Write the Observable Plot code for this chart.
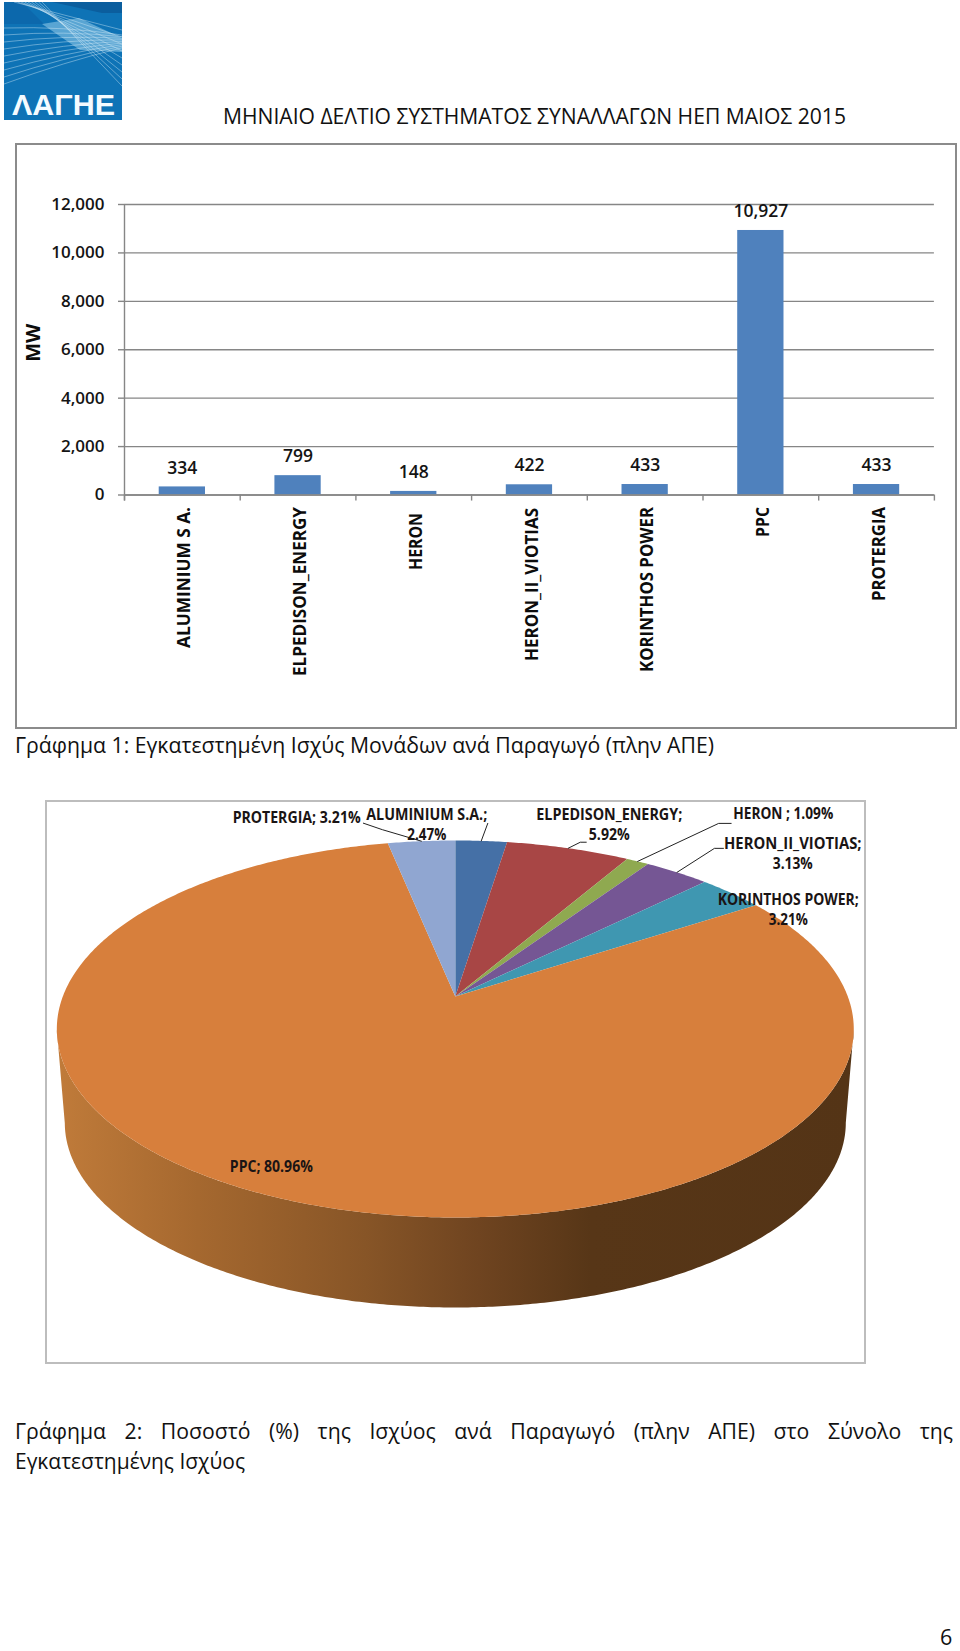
<!DOCTYPE html>
<html lang="el">
<head>
<meta charset="utf-8">
<title>ΜΗΝΙΑΙΟ ΔΕΛΤΙΟ ΣΥΣΤΗΜΑΤΟΣ ΣΥΝΑΛΛΑΓΩΝ ΗΕΠ ΜΑΙΟΣ 2015</title>
<script src="https://cdn.jsdelivr.net/npm/d3@7"></script>
<script src="https://cdn.jsdelivr.net/npm/@observablehq/plot@0.6"></script>
<style>
  html, body { margin: 0; padding: 0; background: #fff; }
  #page { position: relative; width: 960px; height: 1651px; overflow: hidden; font-family: "Open Sans", "Noto Sans", sans-serif; color: #111; }
  .line { position: absolute; white-space: nowrap; font-size: 21.5px; line-height: 30px; transform-origin: 0 50%; }
  #logo { position: absolute; left: 4px; top: 2px; }
  .chart { position: absolute; }
</style>
</head>
<body>
<div id="page">
  <svg id="logo" width="118" height="118" viewBox="0 0 118 118"></svg>
  <div class="line" id="title" data-w="623" style="left:223px;top:101px">ΜΗΝΙΑΙΟ ΔΕΛΤΙΟ ΣΥΣΤΗΜΑΤΟΣ ΣΥΝΑΛΛΑΓΩΝ ΗΕΠ ΜΑΙΟΣ 2015</div>
  <div class="line" id="cap1" data-w="699" style="left:15px;top:730px">Γράφημα 1: Εγκατεστημένη Ισχύς Μονάδων ανά Παραγωγό (πλην ΑΠΕ)</div>
  <div class="line" id="cap2a" style="left:15px;top:1416px;white-space:normal;text-align:justify;text-align-last:justify">Γράφημα 2: Ποσοστό (%) της Ισχύος ανά Παραγωγό (πλην ΑΠΕ) στο Σύνολο της</div>
  <div class="line" id="cap2b" data-w="230" style="left:15px;top:1446px">Εγκατεστημένης Ισχύος</div>
  <div class="line" id="pageno" style="left:940px;top:1626px;line-height:22px">6</div>
</div>
<script>
// ---- data ----
const producers = ["ALUMINIUM S.A.", "ELPEDISON_ENERGY", "HERON", "HERON_II_VIOTIAS", "KORINTHOS POWER", "PPC", "PROTERGIA"];
const capacityMW = [334, 799, 148, 422, 433, 10927, 433];
const sharePct = [2.47, 5.92, 1.09, 3.13, 3.21, 80.96, 3.21];
const yTicks = [0, 2000, 4000, 6000, 8000, 10000, 12000];
const axisNames = ["ALUMINIUM S A.", "ELPEDISON_ENERGY", "HERON", "HERON_II_VIOTIAS", "KORINTHOS POWER", "PPC", "PROTERGIA"];
const pieText = [
  "ALUMINIUM S.A.;\n2.47%",
  "ELPEDISON_ENERGY;\n5.92%",
  "HERON ; 1.09%",
  "HERON_II_VIOTIAS;\n3.13%",
  "KORINTHOS POWER;\n3.21%",
  "PPC; 80.96%",
  "PROTERGIA; 3.21%"
];

// ---- styling / layout (not data) ----
const sliceColors = ["#4570A6", "#A84645", "#8FA950", "#755694", "#3F97B1", "#D77F3C", "#90A6D1"];
const axisLabelLengths = [141, 169, 57, 153, 165, 30, 94];
const axisLabelShift = [12, 12, 18, 13, 12, 12, 12];
const labelShift = [[-54.5, -15.4], [41, -23], [145.6, -47], [115.8, -18], [57, 17.5], [-4, -30.6], [-124.7, -22.7]];
const labelLineLengths = [[121, 39], [146, 41], [100], [137.5, 40], [141, 39], [83], [128]];
const rightAnchored = new Set(["HERON_II_VIOTIAS;", "KORINTHOS POWER;", "HERON ; 1.09%"]);
const leaderBends = [
  [[6.5, -17.5]],
  [[12, -6], [18, -6]],
  [[81, -38], [93.5, -38]],
  [[37.5, -24], [46.5, -24]],
  [],
  [],
  [[-39, -11.5], [-58, -18]]
];

const gridGray = "#868686";
const page = document.getElementById("page");
const squeeze = (svg, lengths) => svg.querySelectorAll("text").forEach(t => {
  const len = lengths.get(t.textContent);
  if (len) { t.setAttribute("textLength", len); t.setAttribute("lengthAdjust", "spacingAndGlyphs"); }
});

// ---- Chart 1: bars ----
const rows = producers.map((name, i) => ({name, label: axisNames[i], mw: capacityMW[i], shift: axisLabelShift[i]}));
const step = 115.7;
const barFont = {fontFamily: "'Open Sans', sans-serif", fontWeight: 600, fill: "#141414"};
const bar = Plot.plot({
  width: 942, height: 586,
  marginLeft: 109, marginRight: 23.1, marginTop: 61, marginBottom: 234.5,
  style: {background: "#fff", fontFamily: "'Open Sans', sans-serif"},
  x: {type: "band", domain: producers, paddingInner: 0.6, paddingOuter: 0.3, round: false, axis: null},
  y: {domain: [0, 12000], axis: null},
  marks: [
    Plot.gridY(yTicks, {stroke: gridGray, strokeOpacity: 1, strokeWidth: 1.4}),
    Plot.axisY(yTicks, {anchor: "left", tickSize: 6, tickPadding: 14, stroke: gridGray, strokeWidth: 1.4, tickFormat: d3.format(","), label: null, fontSize: 17, ...barFont}),
    Plot.barY(rows, {x: "name", y: "mw", fill: "#4F81BD"}),
    Plot.ruleX(rows.slice(0, 1), {x: "name", dx: -step / 2, y1: -250, y2: 12000, stroke: gridGray, strokeWidth: 1.4}),
    Plot.ruleX(rows, {x: "name", dx: -step / 2, y1: -250, y2: 0, stroke: gridGray, strokeWidth: 1.4}),
    Plot.ruleX(rows.slice(-1), {x: "name", dx: step / 2, y1: -250, y2: 0, stroke: gridGray, strokeWidth: 1.4}),
    Plot.ruleY([0], {stroke: gridGray, strokeWidth: 1.6}),
    Plot.text(rows, {x: "name", y: "mw", text: d => d3.format(",")(d.mw), dy: -19, fontSize: 17.5, ...barFont}),
    ...rows.map(r => Plot.text([r], {x: "name", y: () => 0, text: "label", rotate: -90, textAnchor: "end", dx: 2.5, dy: r.shift, fontSize: 17.5, fontFamily: "'Open Sans', sans-serif", fontWeight: 700, fill: "#0c0c0c"})),
    Plot.text(["MW"], {frameAnchor: "left", rotate: -90, dx: -91, dy: 12, fontSize: 20, fontFamily: "'Open Sans', sans-serif", fontWeight: 700, fill: "#0c0c0c"})
  ]
});
bar.classList.add("chart");
Object.assign(bar.style, {left: "15px", top: "143px", outline: "2px solid #8b8b8b", outlineOffset: "-2px"});
page.appendChild(bar);
// squeeze the rotated names to the length they have in the reference
squeeze(bar, new Map(axisNames.map((n, i) => [n, axisLabelLengths[i]])));

// ---- Chart 2: 3-D pie, slices from sharePct through a perspective view of the disc ----
const tilt = 0.1724;           // perspective strength of the disc
const wallShrink = 0.98, wallDrop = 94.4; // lower rim relative to upper rim
const halfW = 392.5, halfH = 182.9, cx = 409.8, cy = 196;
const project = deg => {
  const a = deg * Math.PI / 180, w = 1 + tilt * Math.cos(a);
  return {x: Math.sin(a) / w, y: Math.cos(a) / w};
};
let cum = 0;
const slices = producers.map((name, i) => {
  const start = cum * 3.6; cum += sharePct[i];
  return {name, start, end: cum * 3.6, mid: (start + cum * 3.6) / 2, lines: pieText[i].split("\n")};
});
const slicePts = slices.flatMap(s => {
  const n = Math.max(2, Math.ceil((s.end - s.start) / 0.5));
  const arc = d3.range(n + 1).map(k => project(s.start + (s.end - s.start) * k / n));
  return [{x: 0, y: 0}, ...arc].map(p => ({...p, name: s.name}));
});
const tangent = Math.acos(-tilt) * 180 / Math.PI;
const front = d3.range(tangent, 360 - tangent + 0.25, 0.5);
const wallPts = [
  ...front.map(project),
  ...front.slice().reverse().map(project).map(p => ({x: p.x * wallShrink, y: p.y * wallShrink - wallDrop / halfH}))
];
const leaders = slices.flatMap((s, i) => {
  if (!leaderBends[i].length) return [];
  const r = project(s.mid);
  return [r, ...leaderBends[i].map(([ox, oy]) => ({x: r.x + ox / halfW, y: r.y - oy / halfH}))].map(p => ({...p, name: s.name}));
});
const wallDefs = () => {
  const ns = "http://www.w3.org/2000/svg";
  const defs = document.createElementNS(ns, "defs");
  const g = document.createElementNS(ns, "linearGradient");
  g.setAttribute("id", "wall");
  [[0, "#C07B3A"], [0.177, "#A5682F"], [0.388, "#875527"], [0.529, "#6F4420"], [0.67, "#573617"], [1, "#543416"]].forEach(([o, c]) => {
    const st = document.createElementNS(ns, "stop");
    st.setAttribute("offset", o); st.setAttribute("stop-color", c);
    g.appendChild(st);
  });
  defs.appendChild(g);
  return defs;
};
const pie = Plot.plot({
  width: 821, height: 564, margin: 0,
  style: {background: "#fff", fontFamily: "'Open Sans', sans-serif"},
  x: {domain: [-1, 1], range: [cx - halfW, cx + halfW], axis: null},
  y: {domain: [-1, 1], range: [cy + halfH, cy - halfH], axis: null},
  color: {domain: producers, range: sliceColors},
  marks: [
    wallDefs,
    Plot.line(wallPts, {x: "x", y: "y", fill: "url(#wall)", stroke: "none", curve: "linear"}),
    Plot.line(slicePts, {x: "x", y: "y", z: "name", fill: "name", stroke: "none", curve: "linear"}),
    Plot.line(leaders, {x: "x", y: "y", z: "name", stroke: "#222", strokeWidth: 1, curve: "linear"}),
    ...slices.flatMap((s, i) => {
      const p = project(s.mid);
      return s.lines.map((line, k) => {
        const atEnd = rightAnchored.has(line);
        return Plot.text([line], {
          x: () => p.x, y: () => p.y, text: d => d,
          textAnchor: atEnd ? "end" : "middle",
          dx: labelShift[i][0] + (atEnd ? labelLineLengths[i][k] / 2 : 0),
          dy: labelShift[i][1] + (s.lines.length > 1 ? (k ? 10 : -10) : 0),
          fontSize: 15.5, fontWeight: 700, fill: "#1a1414"
        });
      });
    })
  ]
});
pie.classList.add("chart");
Object.assign(pie.style, {left: "45px", top: "800px", outline: "2px solid #bdbdbd", outlineOffset: "-2px"});
page.appendChild(pie);
squeeze(pie, new Map(slices.flatMap((s, i) => s.lines.map((l, k) => [l, labelLineLengths[i][k]]))));

// ---- page furniture: logo and text fitting ----
const logo = d3.select("#logo");
logo.append("rect").attr("width", 118).attr("height", 118).attr("fill", "#0E73B6");
logo.append("polygon").attr("points", "48,0 118,0 118,11 98,11").attr("fill", "#0B5E9E");
logo.append("polygon").attr("points", "0,0 18,0 40,22 0,22").attr("fill", "#0C68AC");
logo.append("polygon").attr("points", "38,22 75,16 118,36 118,50 76,48").attr("fill", "#8CC6E6").attr("fill-opacity", 0.6);
for (let i = 0; i < 9; i++) {
  logo.append("path").attr("d", `M0,${26 + i * 7} Q60,${24 + i * 4.5} 118,${33 + i * 1.6}`)
    .attr("fill", "none").attr("stroke", "#DDF1FB").attr("stroke-opacity", 0.45).attr("stroke-width", 0.9);
  logo.append("path").attr("d", `M${10 + i * 3.5},0 L118,${28 + i * 7}`)
    .attr("fill", "none").attr("stroke", "#DDF1FB").attr("stroke-opacity", 0.45).attr("stroke-width", 0.9);
}
logo.append("rect").attr("y", 88).attr("width", 118).attr("height", 30).attr("fill", "#0E73B6");
logo.append("text").text("ΛΑΓΗΕ").attr("x", 8).attr("y", 113).attr("textLength", 103).attr("lengthAdjust", "spacingAndGlyphs")
  .attr("font-family", "'Liberation Sans', sans-serif").attr("font-weight", 700).attr("font-size", 29).attr("fill", "#F4FBFF");

const fit = el => {
  const w = +el.dataset.w;
  const s = w / el.getBoundingClientRect().width;
  el.style.transform = `scaleX(${s})`;
  return s;
};
const capScale = fit(document.getElementById("cap1"));
fit(document.getElementById("title"));
fit(document.getElementById("cap2b"));
const c2 = document.getElementById("cap2a");
c2.style.width = (938 / capScale) + "px";
c2.style.transform = `scaleX(${capScale})`;
</script>
</body>
</html>
